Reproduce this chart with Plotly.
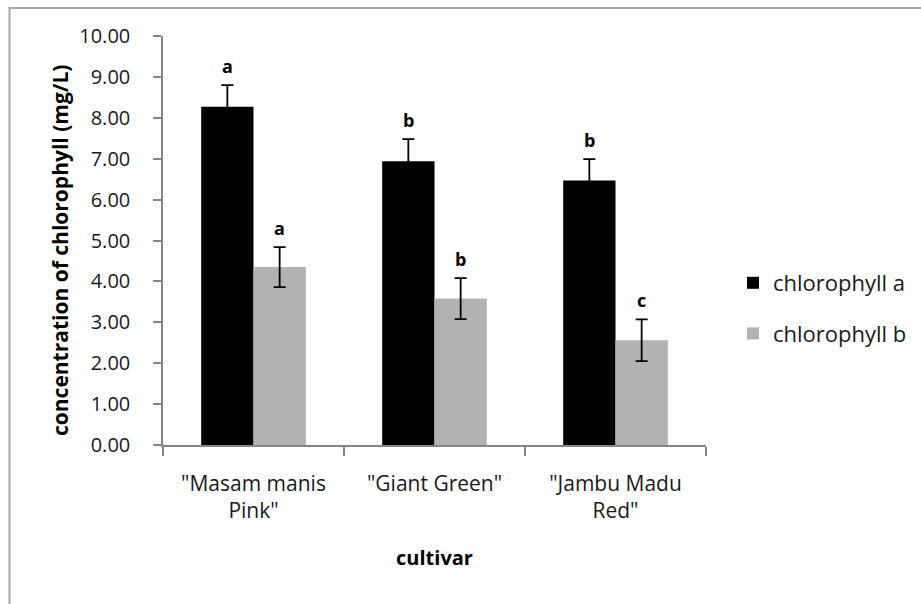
import plotly.graph_objects as go

# Chlorophyll content by cultivar (mean ± error), with significance letters
cultivars = ['"Masam manis<br>Pink"', '"Giant Green"', '"Jambu Madu<br>Red"']
chl_a = [8.27, 6.94, 6.47]
chl_a_err = [0.53, 0.54, 0.52]
chl_b = [4.35, 3.58, 2.56]
chl_b_err = [0.49, 0.50, 0.51]
letters_a = ["a", "b", "b"]
letters_b = ["a", "b", "c"]
y_ticks = [0, 1, 2, 3, 4, 5, 6, 7, 8, 9, 10]

FONT = "Open Sans"
AXIS_GRAY = "#868686"
TEXT = "#1a1a1a"
BAR_GAP = 0.422

fig = go.Figure()
fig.add_trace(go.Bar(
    name="chlorophyll a", x=cultivars, y=chl_a, legendgroup="a",
    marker=dict(color="#000000", line=dict(width=0)),
    error_y=dict(type="data", array=chl_a_err, color="#000000", thickness=1.8, width=6),
))
fig.add_trace(go.Bar(
    name="chlorophyll b", x=cultivars, y=chl_b, legendgroup="b",
    marker=dict(color="#b2b2b2", line=dict(width=0)),
    error_y=dict(type="data", array=chl_b_err, color="#000000", thickness=1.8, width=6),
))

# significance letters above each error bar
plot_w = 921 - 163 - 215
plot_h = 445 - 36
bar_w = plot_w / len(cultivars) * (1 - BAR_GAP) / 2
for vals, errs, letters, side in ((chl_a, chl_a_err, letters_a, -1), (chl_b, chl_b_err, letters_b, 1)):
    for c, v, e, t in zip(cultivars, vals, errs, letters):
        fig.add_annotation(
            x=c, y=v + e, xref="x", yref="y", text=t, showarrow=False,
            xshift=side * bar_w / 2, yanchor="bottom", yshift=5,
            font=dict(family=FONT, size=18, color="#000000", weight="bold"),
        )

# vertical axis title
fig.add_annotation(
    text="concentration of chlorophyll (mg/L)", textangle=-90, showarrow=False,
    xref="paper", yref="paper", x=(60 - 163) / plot_w, y=(445 - 251) / plot_h,
    xanchor="center", yanchor="middle",
    font=dict(family=FONT, size=21, color="#000000", weight="bold"),
)

# chart frame
fig.add_shape(
    type="rect", xref="paper", yref="paper",
    x0=(9.5 - 163) / plot_w, x1=(935 - 163) / plot_w,
    y0=(445 - 620) / plot_h, y1=(445 - 8) / plot_h,
    line=dict(color="#a6a6a6", width=2), fillcolor="rgba(0,0,0,0)", layer="below",
)

fig.update_layout(
    width=921, height=604,
    margin=dict(l=163, r=215, t=36, b=159, autoexpand=False),
    paper_bgcolor="#ffffff", plot_bgcolor="#ffffff",
    barmode="group", bargap=BAR_GAP, bargroupgap=0,
    font=dict(family=FONT, color=TEXT),
    showlegend=True,
    legend=dict(
        x=(733 - 163) / plot_w, y=(445 - 262) / plot_h, xanchor="left", yanchor="top",
        font=dict(family=FONT, size=22, color=TEXT),
        traceorder="grouped", tracegroupgap=19, bgcolor="rgba(0,0,0,0)",
    ),
    xaxis=dict(
        showline=True, linecolor=AXIS_GRAY, linewidth=1.5,
        ticks="outside", tickson="boundaries", ticklen=9, tickcolor=AXIS_GRAY, tickwidth=1.5,
        tickfont=dict(family=FONT, size=21, color=TEXT),
        ticklabelstandoff=19,
        showgrid=False, zeroline=False,
        title=dict(text="cultivar", font=dict(family=FONT, size=20, color="#000000", weight="bold"), standoff=28),
    ),
    yaxis=dict(
        range=[0, 10], tickvals=y_ticks, tickformat=".2f",
        showline=True, linecolor=AXIS_GRAY, linewidth=1.5,
        ticks="outside", ticklen=8, tickcolor=AXIS_GRAY, tickwidth=1.5,
        tickfont=dict(family=FONT, size=20, color=TEXT),
        ticklabelstandoff=19,
        showgrid=False, zeroline=False,
    ),
)

fig.write_html("out.html")
